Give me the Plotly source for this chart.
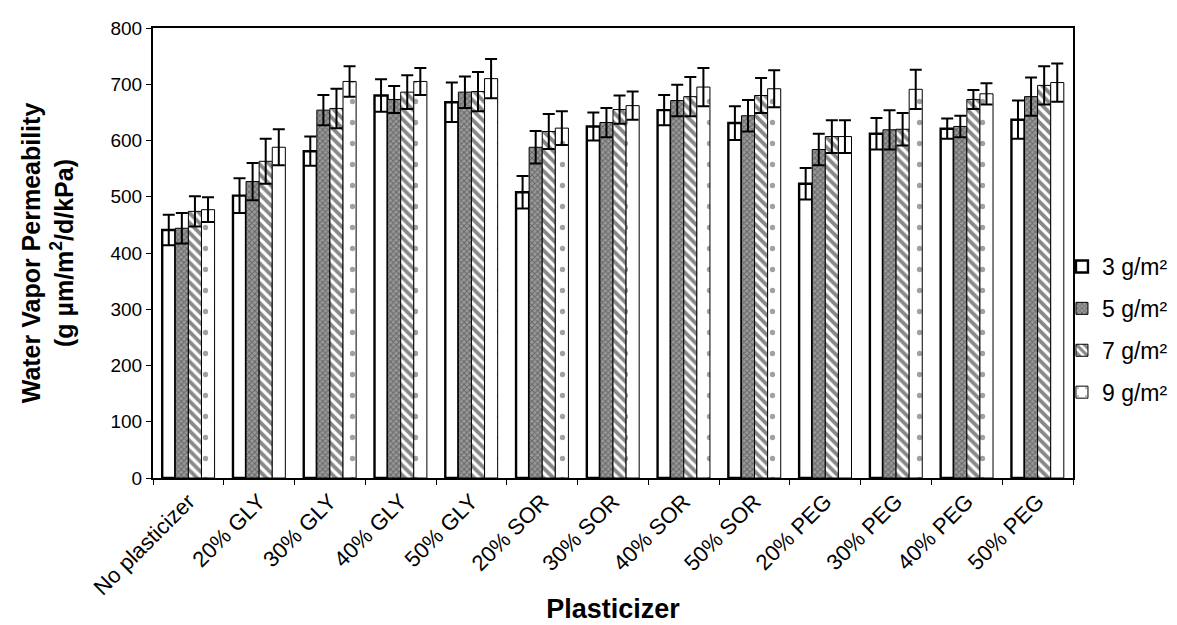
import plotly.graph_objects as go

categories = ["No plasticizer", "20% GLY", "30% GLY", "40% GLY", "50% GLY",
              "20% SOR", "30% SOR", "40% SOR", "50% SOR",
              "20% PEG", "30% PEG", "40% PEG", "50% PEG"]

series_names = ["3 g/m²", "5 g/m²", "7 g/m²", "9 g/m²"]

wvp_3 = [441, 502, 581, 680, 668, 508, 625, 654, 631, 523, 612, 621, 637]
wvp_5 = [444, 527, 654, 673, 686, 588, 632, 671, 644, 584, 619, 625, 678]
wvp_7 = [474, 563, 657, 686, 687, 616, 655, 678, 680, 607, 620, 673, 698]
wvp_9 = [477, 588, 705, 705, 710, 622, 662, 695, 692, 607, 691, 683, 703]

err_3 = [27, 31, 26, 29, 35, 29, 25, 27, 30, 28, 28, 18, 34]
err_5 = [27, 33, 27, 24, 28, 29, 26, 28, 28, 28, 35, 19, 34]
err_7 = [27, 40, 35, 30, 35, 31, 25, 35, 31, 29, 29, 17, 34]
err_9 = [22, 32, 27, 24, 35, 30, 25, 34, 33, 29, 35, 19, 34]

values = [wvp_3, wvp_5, wvp_7, wvp_9]
errors = [err_3, err_5, err_7, err_9]

patterns = [
    dict(shape="", bgcolor="white"),
    dict(shape="x", fgcolor="#333333", bgcolor="#9a9a9a", size=4, solidity=0.45),
    dict(shape="\\", fgcolor="#111111", bgcolor="white", size=7, solidity=0.55),
    dict(shape=".", fgcolor="#444444", bgcolor="white", size=21, solidity=0.05),
]
line_widths = [2.4, 1, 1, 1]

FONT = "Liberation Sans, Arial, sans-serif"

fig = go.Figure()
for i in range(4):
    fig.add_trace(go.Bar(
        x=categories, y=values[i], name=series_names[i],
        legendgroup=series_names[i],
        marker=dict(color="white", pattern=patterns[i],
                    line=dict(color="black", width=line_widths[i])),
        error_y=dict(type="data", array=errors[i], visible=True,
                     color="black", thickness=2, width=6),
    ))

fig.update_layout(
    width=1177, height=625,
    paper_bgcolor="white", plot_bgcolor="white",
    barmode="group", bargap=0.26, bargroupgap=0,
    margin=dict(l=145, r=112, t=20, b=155, autoexpand=False),
    font=dict(family=FONT, color="black", size=19),
    showlegend=True,
    legend=dict(x=0.988, xanchor="left", y=0.33, yanchor="middle",
                font=dict(size=23, family=FONT), tracegroupgap=9,
                bgcolor="rgba(0,0,0,0)"),
    xaxis=dict(
        automargin=False,
        showline=True, linecolor="black", linewidth=2, mirror=True,
        ticks="outside", tickson="boundaries", ticklen=5, tickcolor="black",
        tickangle=-45, tickfont=dict(size=22, family=FONT),
        title=dict(text="<b>Plasticizer</b>", font=dict(size=27, family=FONT), standoff=0),
        showgrid=False,
    ),
    yaxis=dict(
        automargin=False,
        range=[0, 800], dtick=100, showline=True, linecolor="black", linewidth=2,
        mirror=True, ticks="outside", ticklen=5, tickcolor="black",
        tickfont=dict(size=19, family=FONT), showgrid=False, zeroline=False,
        title=dict(text="<b>Water Vapor Permeability<br>(g µm/m<sup>2</sup>/d/kPa)</b>",
                   font=dict(size=25, family=FONT), standoff=30),
    ),
)

fig.write_html("out.html")
